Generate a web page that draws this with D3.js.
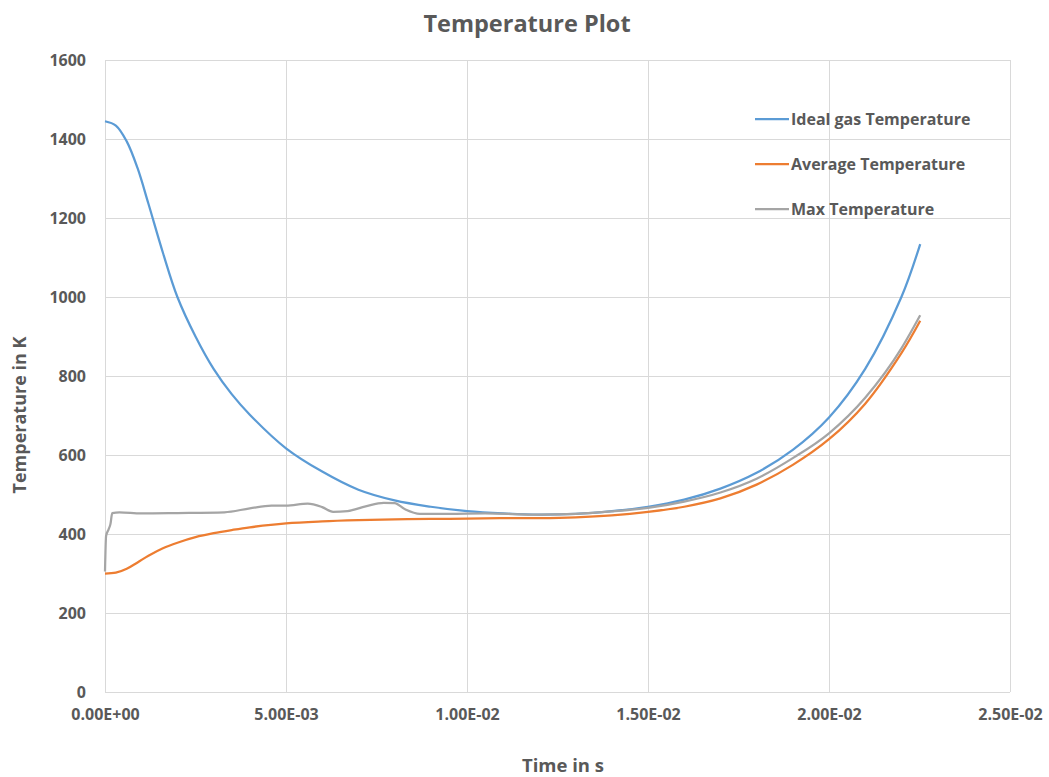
<!DOCTYPE html>
<html>
<head>
<meta charset="utf-8">
<script src="https://cdn.jsdelivr.net/npm/d3@7"></script>
<style>
  body { margin: 0; background: #fff; }
  text { font-family: "Open Sans", "Liberation Sans", sans-serif; font-weight: 700; fill: #595959; }
</style>
</head>
<body>
<div id="chart"></div>
<script>
// ── data ──────────────────────────────────────────────────
const timeMain = [0, 0.0003, 0.0006, 0.0009, 0.0012, 0.0016, 0.002, 0.0025, 0.003, 0.0035,
                  0.004, 0.005, 0.006, 0.007, 0.008, 0.009, 0.010, 0.011, 0.012, 0.013,
                  0.014, 0.015, 0.016, 0.017, 0.018, 0.019, 0.020, 0.021, 0.022, 0.02252];
const idealGas = [1445, 1434, 1394, 1326, 1236, 1112, 1000, 900, 818, 754,
                  702, 617, 558, 512, 485, 469, 458, 452, 449, 451,
                  458, 469, 487, 515, 555, 613, 695, 818, 1000, 1134];
const avgTemp  = [300, 302, 312, 328, 345, 364, 378, 392, 402, 410,
                  417, 427, 432, 435, 437, 438, 439, 440, 440, 442,
                  447, 456, 469, 490, 525, 575, 640, 730, 858, 940];
const timeMax  = [0, 0.00003, 0.0001, 0.00015, 0.0002, 0.0004, 0.001, 0.002, 0.0033, 0.004,
                  0.0046, 0.005, 0.0056, 0.006, 0.0063, 0.0067, 0.0072, 0.0077, 0.008, 0.0083,
                  0.0087, 0.0095, 0.0105, 0.012, 0.013, 0.014, 0.015, 0.016, 0.017, 0.018,
                  0.019, 0.020, 0.021, 0.022, 0.02252];
const maxTemp  = [305, 395, 412, 425, 453, 455, 452, 453, 455, 465,
                  472, 472, 477, 468, 456, 458, 470, 479, 478, 462,
                  451, 451, 452, 449, 451, 457, 466, 482, 505, 540,
                  592, 655, 745, 870, 954];

const xTicks = [0, 0.005, 0.01, 0.015, 0.02, 0.025];
const xTickLabels = ["0.00E+00", "5.00E-03", "1.00E-02", "1.50E-02", "2.00E-02", "2.50E-02"];
const yTicks = [0, 200, 400, 600, 800, 1000, 1200, 1400, 1600];

const series = [
  { name: "Ideal gas Temperature", color: "#5b9bd5", t: timeMain, v: idealGas, curve: d3.curveCatmullRom },
  { name: "Average Temperature",   color: "#ed7d31", t: timeMain, v: avgTemp,  curve: d3.curveCatmullRom },
  { name: "Max Temperature",       color: "#a5a5a5", t: timeMax,  v: maxTemp,  curve: d3.curveMonotoneX },
];

// ── canvas ────────────────────────────────────────────────
const W = 1049, H = 777;
const plot = { left: 105, right: 1010, top: 60, bottom: 692 };

const svg = d3.select("#chart").append("svg").attr("width", W).attr("height", H);
svg.append("rect").attr("width", W).attr("height", H).attr("fill", "#fff");

const x = d3.scaleLinear().domain([0, 0.025]).range([plot.left, plot.right]);
const y = d3.scaleLinear().domain([0, 1600]).range([plot.bottom, plot.top]);

// grid
const grid = svg.append("g");
grid.selectAll(".hg").data(yTicks).enter().append("line")
    .attr("x1", plot.left).attr("x2", plot.right)
    .attr("y1", d => y(d) + 0.5).attr("y2", d => y(d) + 0.5)
    .attr("stroke", "#d9d9d9").attr("stroke-width", 1);
grid.selectAll(".vg").data(xTicks).enter().append("line")
    .attr("x1", d => x(d) + 0.5).attr("x2", d => x(d) + 0.5)
    .attr("y1", plot.top).attr("y2", plot.bottom)
    .attr("stroke", "#d9d9d9").attr("stroke-width", 1);

// axes (labels only; gridlines drawn above)
const yAxis = svg.append("g").attr("transform", `translate(${plot.left},0)`)
    .call(d3.axisLeft(y).tickValues(yTicks).tickSize(0).tickPadding(19).tickFormat(d3.format("d")));
const xAxis = svg.append("g").attr("transform", `translate(0,${plot.bottom})`)
    .call(d3.axisBottom(x).tickValues(xTicks).tickSize(0).tickPadding(17)
          .tickFormat((d, i) => xTickLabels[i]));
[yAxis, xAxis].forEach(a => {
    a.select(".domain").remove();
    a.selectAll("text").style("font-size", "16px").attr("fill", "#595959");
});

// lines
series.forEach(s => {
    const line = d3.line().curve(s.curve);
    const pts = s.t.map((t, i) => [x(t), y(s.v[i])]);
    svg.append("path").attr("d", line(pts))
        .attr("fill", "none").attr("stroke", s.color)
        .attr("stroke-width", 2.25).attr("stroke-linejoin", "round");
});

// title + axis titles
svg.append("text").attr("x", 527).attr("y", 32).attr("text-anchor", "middle")
    .style("font-size", "23.5px").text("Temperature Plot");
svg.append("text").attr("x", 563).attr("y", 772).attr("text-anchor", "middle")
    .style("font-size", "18.5px").text("Time in s");
svg.append("text").attr("transform", "translate(26,415) rotate(-90)").attr("text-anchor", "middle")
    .style("font-size", "18px").text("Temperature in K");

// legend
const legend = svg.append("g");
series.forEach((s, i) => {
    const ly = 119 + i * 45;
    legend.append("line").attr("x1", 755).attr("x2", 789).attr("y1", ly).attr("y2", ly)
        .attr("stroke", s.color).attr("stroke-width", 2.25);
    legend.append("text").attr("x", 791).attr("y", ly + 6)
        .style("font-size", "16px").text(s.name);
});
</script>
</body>
</html>
